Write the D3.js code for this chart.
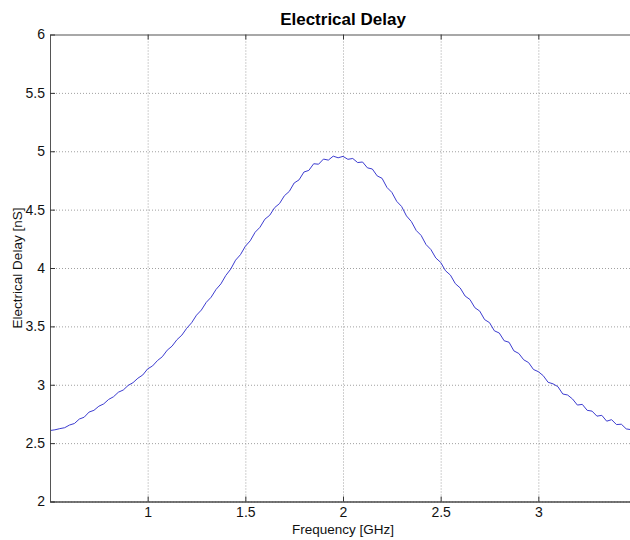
<!DOCTYPE html>
<html>
<head>
<meta charset="utf-8">
<script src="https://cdn.jsdelivr.net/npm/d3@7"></script>
<style>
  html, body { margin: 0; padding: 0; background: #fff; }
  svg { display: block; font-family: "Liberation Sans", Arial, Helvetica, sans-serif; }
</style>
</head>
<body>
<svg id="chart" width="630" height="540"></svg>
<script>
// Measured electrical delay versus frequency
const freq = [
  0.500, 0.525, 0.550, 0.575, 0.600, 0.625, 0.650, 0.675, 0.700, 0.725,
  0.750, 0.775, 0.800, 0.825, 0.850, 0.875, 0.900, 0.925, 0.950, 0.975,
  1.000, 1.025, 1.050, 1.075, 1.100, 1.125, 1.150, 1.175, 1.200, 1.225,
  1.250, 1.275, 1.300, 1.325, 1.350, 1.375, 1.400, 1.425, 1.450, 1.475,
  1.500, 1.525, 1.550, 1.575, 1.600, 1.625, 1.650, 1.675, 1.700, 1.725,
  1.750, 1.775, 1.800, 1.825, 1.850, 1.875, 1.900, 1.925, 1.950, 1.975,
  2.000, 2.025, 2.050, 2.075, 2.100, 2.125, 2.150, 2.175, 2.200, 2.225,
  2.250, 2.275, 2.300, 2.325, 2.350, 2.375, 2.400, 2.425, 2.450, 2.475,
  2.500, 2.525, 2.550, 2.575, 2.600, 2.625, 2.650, 2.675, 2.700, 2.725,
  2.750, 2.775, 2.800, 2.825, 2.850, 2.875, 2.900, 2.925, 2.950, 2.975,
  3.000, 3.025, 3.050, 3.075, 3.100, 3.125, 3.150, 3.175, 3.200, 3.225,
  3.250, 3.275, 3.300, 3.325, 3.350, 3.375, 3.400, 3.425, 3.450, 3.475
];

const delay = [
  2.608, 2.614, 2.624, 2.632, 2.655, 2.668, 2.706, 2.722, 2.766, 2.781,
  2.816, 2.836, 2.874, 2.897, 2.936, 2.955, 2.994, 3.018, 3.056, 3.084,
  3.136, 3.161, 3.207, 3.240, 3.296, 3.331, 3.386, 3.425, 3.484, 3.531,
  3.596, 3.640, 3.706, 3.750, 3.816, 3.864, 3.936, 3.990, 4.067, 4.114,
  4.186, 4.233, 4.306, 4.349, 4.418, 4.452, 4.517, 4.552, 4.619, 4.656,
  4.728, 4.755, 4.822, 4.836, 4.893, 4.889, 4.933, 4.924, 4.958, 4.944,
  4.956, 4.931, 4.938, 4.903, 4.908, 4.858, 4.848, 4.789, 4.768, 4.690,
  4.648, 4.571, 4.527, 4.446, 4.398, 4.321, 4.279, 4.201, 4.158, 4.086,
  4.048, 3.976, 3.939, 3.866, 3.829, 3.760, 3.730, 3.660, 3.631, 3.558,
  3.532, 3.462, 3.443, 3.377, 3.364, 3.290, 3.268, 3.214, 3.190, 3.131,
  3.112, 3.078, 3.021, 3.008, 2.984, 2.921, 2.912, 2.878, 2.826, 2.832,
  2.781, 2.774, 2.731, 2.738, 2.688, 2.701, 2.659, 2.662, 2.622, 2.615
];

const xTicks = [1, 1.5, 2, 2.5, 3];
const yTicks = [2, 2.5, 3, 3.5, 4, 4.5, 5, 5.5, 6];
const xDomain = [0.5, 3.5];
const yDomain = [2, 6];

const titleText = "Electrical Delay";
const xLabelText = "Frequency [GHz]";
const yLabelText = "Electrical Delay [nS]";

// Layout
const W = 630, H = 540;
const plot = { left: 50, right: 636, top: 34.5, bottom: 501.5 };
const plotW = plot.right - plot.left;
const plotH = plot.bottom - plot.top;

const svg = d3.select("#chart");
svg.append("rect").attr("width", W).attr("height", H).attr("fill", "#fff");

const x = d3.scaleLinear().domain(xDomain).range([plot.left, plot.right]);
const y = d3.scaleLinear().domain(yDomain).range([plot.bottom, plot.top]);
const fmt = d => String(d);

// Dotted grid
svg.append("g")
  .attr("transform", `translate(0,${plot.bottom})`)
  .call(d3.axisBottom(x).tickValues(xTicks).tickSize(-plotH).tickFormat(""))
  .call(g => g.select(".domain").remove())
  .call(g => g.selectAll(".tick line")
    .attr("stroke", "#a0a0a0").attr("stroke-width", 1)
    .attr("stroke-dasharray", "1,2"));

svg.append("g")
  .attr("transform", `translate(${plot.left},0)`)
  .call(d3.axisLeft(y).tickValues(yTicks).tickSize(-plotW).tickFormat(""))
  .call(g => g.select(".domain").remove())
  .call(g => g.selectAll(".tick line")
    .attr("stroke", "#a0a0a0").attr("stroke-width", 1)
    .attr("stroke-dasharray", "1,2"));

// Data line
const line = d3.line()
  .x((d, i) => x(freq[i]))
  .y(d => y(d));

svg.append("path")
  .datum(delay)
  .attr("fill", "none")
  .attr("stroke", "#3c3cd0")
  .attr("stroke-width", 1)
  .attr("stroke-linejoin", "round")
  .attr("d", line);

// Axes with inward ticks
const tickColor = "#333";
const labelStyle = g => g.selectAll("text")
  .attr("fill", "#111").attr("font-size", "14px")
  .attr("font-family", "'Liberation Sans', Arial, sans-serif");

svg.append("g")
  .attr("transform", `translate(0,${plot.bottom})`)
  .call(d3.axisBottom(x).tickValues(xTicks).tickFormat(fmt)
    .tickSizeInner(-5).tickSizeOuter(0).tickPadding(6))
  .call(g => g.select(".domain").attr("stroke", "#4a4a4a").attr("stroke-width", 1.5))
  .call(g => g.selectAll(".tick line").attr("stroke", tickColor))
  .call(labelStyle);

svg.append("g")
  .attr("transform", `translate(0,${plot.top})`)
  .call(d3.axisTop(x).tickValues(xTicks).tickFormat("")
    .tickSizeInner(-5).tickSizeOuter(0))
  .call(g => g.select(".domain").attr("stroke", "#a8a8a8").attr("stroke-width", 2))
  .call(g => g.selectAll(".tick line").attr("stroke", tickColor));

svg.append("g")
  .attr("transform", `translate(${plot.left},0)`)
  .call(d3.axisLeft(y).tickValues(yTicks).tickFormat(fmt)
    .tickSizeInner(-5).tickSizeOuter(0).tickPadding(5))
  .call(g => g.select(".domain").attr("stroke", "#555").attr("stroke-width", 1))
  .call(g => g.selectAll(".tick line").attr("stroke", tickColor))
  .call(labelStyle);

// Title and axis labels
const cx = (plot.left + plot.right) / 2;
const cy = (plot.top + plot.bottom) / 2;

svg.append("text")
  .attr("x", cx).attr("y", 24.5)
  .attr("text-anchor", "middle")
  .attr("font-size", "17px").attr("font-weight", "bold")
  .attr("fill", "#000")
  .text(titleText);

svg.append("text")
  .attr("x", cx).attr("y", 534)
  .attr("text-anchor", "middle")
  .attr("font-size", "13.5px")
  .attr("fill", "#111")
  .text(xLabelText);

svg.append("text")
  .attr("transform", `translate(22,${cy}) rotate(-90)`)
  .attr("text-anchor", "middle")
  .attr("font-size", "13.5px")
  .attr("fill", "#111")
  .text(yLabelText);
</script>
</body>
</html>
